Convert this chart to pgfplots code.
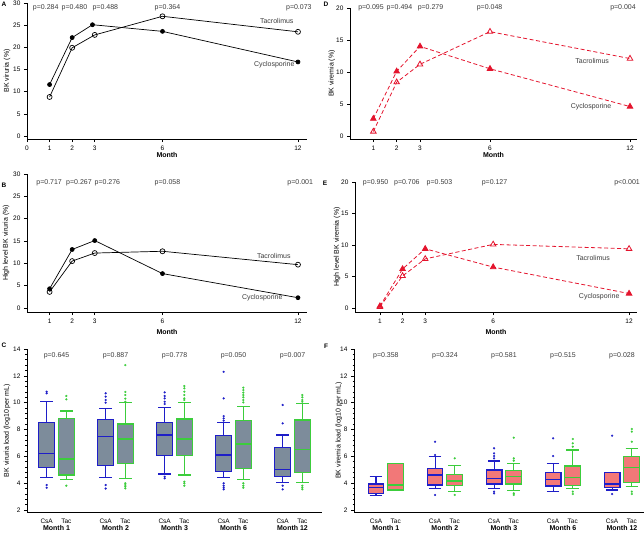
\documentclass[border=0pt]{standalone}
\usepackage{fontspec}
\setmainfont{Liberation Sans}
\usepackage{pgfplots}
\pgfplotsset{compat=1.18}
\usepgfplotslibrary{statistics}
\definecolor{cblue}{RGB}{30,30,200}
\definecolor{cgreen}{RGB}{60,205,60}
\definecolor{bgray}{RGB}{125,140,155}
\definecolor{bsalmon}{RGB}{242,120,120}
\definecolor{cred}{RGB}{228,20,45}
\definecolor{txt}{RGB}{60,60,60}
\pgfplotsset{
  base/.style={
    scale only axis, anchor=south west,
    axis x line*=bottom, axis y line*=left,
    tick align=outside, clip=false,
    /pgf/number format/assume math mode=true,
    tick label style={font=\fontsize{6.5}{7.5}\selectfont, text=black},
    label style={font=\fontsize{7}{8}\selectfont},
    major tick length=3pt, minor tick length=1.5pt,
    axis line style={line width=0.6pt, black},
    tick style={line width=0.6pt, black},
    xlabel style={at={(axis description cs:0.5,0)}, anchor=center},
  },
  csaL/.style={black, line width=0.7pt, mark=*, mark size=2pt, mark options={fill=black}},
  tacL/.style={black, line width=0.7pt, mark=o, mark size=2.5pt, mark options={fill=white}},
  csaR/.style={cred, line width=0.8pt, dash pattern=on 4pt off 2.5pt, mark=triangle*, mark size=3.2pt, mark options={solid, fill=cred}},
  tacR/.style={cred, line width=0.8pt, dash pattern=on 4pt off 2.5pt, mark=triangle, mark size=3.2pt, mark options={solid, fill=white}},
}
\tikzset{pv/.style={font=\fontsize{7}{8}\selectfont, text=txt},
         lab/.style={font=\fontsize{7}{8}\selectfont, text=txt},
         mon/.style={font=\bfseries\fontsize{7}{8}\selectfont, anchor=center, yshift=-16pt},
         pan/.style={font=\bfseries\fontsize{6.5}{7}\selectfont}}
\newcommand{\bxp}[8]{\addplot[#1, boxplot prepared={draw position=#2, lower whisker=#3, lower quartile=#4, median=#5, upper quartile=#6, upper whisker=#7}] table[row sep=\\, y index=0] {v\\ #8};}
\begin{document}
\begin{tikzpicture}
\path[use as bounding box] (0pt,0pt) rectangle (644pt,-532pt);
% ---------- A ----------
\begin{axis}[base, at={(27pt,-139pt)}, width=280pt, height=136pt,
  xmin=0, xmax=12.4, ymin=-0.68, ymax=30,
  xtick={0,1,2,3,6,12}, ytick={0,5,...,30},
  xlabel={\textbf{Month}}, xlabel style={yshift=-16pt},
  ylabel={BK viruria (\%)}, ylabel style={at={(axis description cs:-0.0714,0.5)}, anchor=center}]
\addplot[csaL] coordinates {(1,11.6) (2,22.2) (2.9,25.1) (6,23.6) (12,16.7)};
\addplot[tacL] coordinates {(1,8.8) (2,19.9) (3,22.8) (6,27.0) (12,23.5)};
\node[lab] at (axis cs:11.06,25.9) {Tacrolimus};
\node[lab] at (axis cs:10.95,16.0) {Cyclosporine};
\node[pv] at (axis cs:0.83,28.9) {p=0.284};
\node[pv] at (axis cs:2.1,28.9) {p=0.480};
\node[pv] at (axis cs:3.47,28.9) {p=0.488};
\node[pv] at (axis cs:6.22,28.9) {p=0.364};
\node[pv] at (axis cs:12.04,28.9) {p=0.073};
\end{axis}
% ---------- B ----------
\begin{axis}[base, at={(27pt,-312pt)}, width=280pt, height=138pt,
  xmin=0, xmax=12.4, ymin=-0.9, ymax=30,
  xtick={1,2,3,6,12}, ytick={0,5,...,30},
  xlabel={\textbf{Month}}, xlabel style={yshift=-20pt},
  ylabel={High level BK viruria (\%)}, ylabel style={at={(axis description cs:-0.075,0.5)}, anchor=center}]
\addplot[csaL] coordinates {(1,4.3) (2,13.1) (3,15.1) (6,7.7) (12,2.3)};
\addplot[tacL] coordinates {(1,3.6) (2,10.5) (3,12.3) (6,12.7) (12,9.7)};
\node[lab] at (axis cs:10.93,11.7) {Tacrolimus};
\node[lab] at (axis cs:10.42,2.3) {Cyclosporine};
\node[pv] at (axis cs:0.98,28) {p=0.717};
\node[pv] at (axis cs:2.3,28) {p=0.267};
\node[pv] at (axis cs:3.56,28) {p=0.276};
\node[pv] at (axis cs:6.22,28) {p=0.058};
\node[pv] at (axis cs:12.1,28) {p=0.001};
\end{axis}
% ---------- D ----------
\begin{axis}[base, at={(350pt,-139pt)}, width=287pt, height=131pt,
  xmin=0, xmax=12.3, ymin=-0.47, ymax=20,
  xtick={1,2,3,6,12}, ytick={0,5,...,20},
  xlabel={\textbf{Month}}, xlabel style={yshift=-16pt},
  ylabel={BK viremia (\%)}, ylabel style={at={(axis description cs:-0.063,0.5)}, anchor=center}]
\addplot[csaR] coordinates {(1,2.7) (2,10.1) (3,14.0) (6,10.5) (12,4.6)};
\addplot[tacR] coordinates {(1,0.7) (2,8.4) (3,11.2) (6,16.3) (12,12.1)};
\node[lab] at (axis cs:10.38,11.7) {Tacrolimus};
\node[lab] at (axis cs:10.33,4.6) {Cyclosporine};
\node[pv] at (axis cs:0.9,20.1) {p=0.095};
\node[pv] at (axis cs:2.12,20.1) {p=0.494};
\node[pv] at (axis cs:3.45,20.1) {p=0.279};
\node[pv] at (axis cs:5.98,20.1) {p=0.048};
\node[pv] at (axis cs:11.7,20.1) {p=0.004};
\end{axis}
% ---------- E ----------
\begin{axis}[base, at={(355pt,-312pt)}, width=282pt, height=130pt,
  xmin=-0.1, xmax=12.35, ymin=-0.63, ymax=20,
  xtick={1,2,3,6,12}, ytick={0,5,...,20},
  xlabel={\textbf{Month}}, xlabel style={yshift=-20pt},
  ylabel={High level BK viremia (\%)}, ylabel style={at={(axis description cs:-0.064,0.5)}, anchor=center}]
\addplot[csaR] coordinates {(1,0.3) (2,6.2) (3,9.4) (6,6.5) (12,2.3)};
\addplot[tacR] coordinates {(1,0.2) (2,5.1) (3,7.8) (6,10.1) (12,9.4)};
\node[lab] at (axis cs:10.41,8.0) {Tacrolimus};
\node[lab] at (axis cs:10.68,1.8) {Cyclosporine};
\node[pv] at (axis cs:0.81,19.9) {p=0.950};
\node[pv] at (axis cs:2.19,19.9) {p=0.706};
\node[pv] at (axis cs:3.63,19.9) {p=0.503};
\node[pv] at (axis cs:6.06,19.9) {p=0.127};
\node[pv] at (axis cs:11.91,19.9) {p<0.001};
\end{axis}
% ---------- C ----------
\begin{axis}[base, at={(27pt,-512pt)}, width=295pt, height=163pt,
  xmin=0, xmax=15, ymin=1.85, ymax=14,
  ytick={2,4,...,14}, minor y tick num=4,
  xtick={1,2,4,5,7,8,10,11,13,14},
  xticklabels={CsA,Tac,CsA,Tac,CsA,Tac,CsA,Tac,CsA,Tac},
  x tick style={draw=none},
  ylabel={BK viruria load (log10 per mL)}, ylabel style={at={(axis description cs:-0.068,0.5)}, anchor=center},
  boxplot/draw direction=y, boxplot/box extend=0.8,
  csa/.style={draw=cblue, fill=bgray, line width=1.1pt, mark=*, mark size=1pt, mark options={solid, fill=cblue, draw=cblue, line width=0.2pt}},
  tac/.style={draw=cgreen, fill=bgray, line width=1.1pt, mark=*, mark size=1pt, mark options={solid, fill=cgreen, draw=cgreen, line width=0.2pt}}]
\bxp{csa}{1}{4.43}{5.18}{6.22}{8.53}{10.07}{10.82\\ 10.7\\ 3.86\\ 3.66\\}
\bxp{tac}{2}{4.24}{4.61}{5.8}{8.81}{9.38}{10.5\\ 10.25\\ 3.81\\}
\bxp{csa}{4}{4.43}{5.35}{7.47}{8.76}{9.58}{10.7\\ 10.45\\ 10.2\\ 10.0\\ 3.86\\ 3.6\\}
\bxp{tac}{5}{4.36}{5.48}{7.29}{8.41}{10.0}{12.8\\ 10.8\\ 10.57\\ 10.3\\ 10.07\\ 3.99\\ 3.86\\ 3.74\\ 3.61\\}
\bxp{csa}{7}{4.68}{6.05}{7.59}{8.53}{9.65}{10.77\\ 10.5\\ 10.32\\ 10.07\\ 9.9\\ 4.48\\ 4.36\\}
\bxp{tac}{8}{4.61}{6.05}{7.29}{8.78}{10.02}{11.24\\ 11.07\\ 10.82\\ 10.57\\ 10.32\\ 10.2\\ 4.11\\ 3.99\\ 3.81\\}
\bxp{csa}{10}{4.43}{4.86}{6.1}{7.52}{8.53}{12.3\\ 10.32\\ 9.0\\ 8.83\\ 8.66\\ 3.99\\ 3.81\\ 3.66\\ 3.54\\}
\bxp{tac}{11}{4.29}{5.1}{6.92}{8.66}{9.7}{11.12\\ 10.94\\ 10.75\\ 10.57\\ 10.4\\ 10.2\\ 10.02\\ 3.99\\ 3.81\\ 3.66\\}
\bxp{csa}{13}{4.04}{4.48}{5.03}{6.67}{7.59}{9.83\\ 8.46\\ 3.81\\ 3.54\\}
\bxp{tac}{14}{4.06}{4.81}{6.52}{8.71}{9.95}{10.57\\ 10.4\\ 10.2\\ 10.07\\ 3.81\\ 3.66\\ 3.54\\}
\node[pv] at (axis cs:1.5,13.48) {p=0.645};
\node[pv] at (axis cs:4.5,13.48) {p=0.887};
\node[pv] at (axis cs:7.5,13.48) {p=0.778};
\node[pv] at (axis cs:10.5,13.48) {p=0.050};
\node[pv] at (axis cs:13.5,13.48) {p=0.007};
\node[mon] at (axis cs:1.5,1.85) {Month 1};
\node[mon] at (axis cs:4.5,1.85) {Month 2};
\node[mon] at (axis cs:7.5,1.85) {Month 3};
\node[mon] at (axis cs:10.5,1.85) {Month 6};
\node[mon] at (axis cs:13.5,1.85) {Month 12};
\end{axis}
% ---------- F ----------
\begin{axis}[base, at={(354pt,-512pt)}, width=290pt, height=163pt,
  xmin=-0.12, xmax=14.62, ymin=1.85, ymax=14,
  ytick={2,4,...,14}, minor y tick num=4,
  xtick={1,2,4,5,7,8,10,11,13,14},
  xticklabels={CsA,Tac,CsA,Tac,CsA,Tac,CsA,Tac,CsA,Tac},
  x tick style={draw=none},
  ylabel={BK viremia load (log10 per mL)}, ylabel style={at={(axis description cs:-0.052,0.5)}, anchor=center},
  boxplot/draw direction=y, boxplot/box extend=0.8,
  csa/.style={draw=cblue, fill=bsalmon, line width=1.1pt, mark=*, mark size=1pt, mark options={solid, fill=cblue, draw=cblue, line width=0.2pt}},
  tac/.style={draw=cgreen, fill=bsalmon, line width=1.1pt, mark=*, mark size=1pt, mark options={solid, fill=cgreen, draw=cgreen, line width=0.2pt}}]
\addplot[csa, boxplot prepared={draw position=1, lower whisker=3.05, lower quartile=3.2, median=3.65, upper quartile=3.94, upper whisker=4.53}] coordinates {};
\addplot[tac, boxplot prepared={draw position=2, lower whisker=3.49, lower quartile=3.49, median=3.86, upper quartile=5.48, upper whisker=5.48}] coordinates {};
\bxp{csa}{4}{3.61}{3.86}{4.61}{5.1}{5.98}{7.09\\ 6.1\\ 3.12\\}
\bxp{tac}{5}{3.37}{3.81}{4.16}{4.66}{5.35}{5.85\\ 3.12\\}
\bxp{csa}{7}{3.57}{3.94}{4.36}{4.98}{5.65}{6.6\\ 6.22\\ 6.02\\ 5.85\\ 3.37\\ 3.24\\}
\bxp{tac}{8}{3.44}{3.94}{4.48}{4.93}{5.48}{7.39\\ 5.85\\ 5.68\\ 3.24\\ 3.12\\}
\bxp{csa}{10}{3.37}{3.79}{4.29}{4.78}{5.48}{7.34\\ 6.02\\}
\bxp{tac}{11}{3.57}{3.81}{4.43}{5.28}{6.47}{7.29\\ 6.97\\ 6.72\\ 3.37\\ 3.19\\}
\bxp{csa}{13}{3.49}{3.69}{3.94}{4.81}{4.81}{7.54\\ 3.19\\}
\bxp{tac}{14}{3.74}{4.06}{5.18}{5.98}{6.6}{8.04\\ 7.84\\ 7.09\\ 3.37\\ 3.19\\}
\node[pv] at (axis cs:1.5,13.48) {p=0.358};
\node[pv] at (axis cs:4.5,13.48) {p=0.324};
\node[pv] at (axis cs:7.5,13.48) {p=0.581};
\node[pv] at (axis cs:10.5,13.48) {p=0.515};
\node[pv] at (axis cs:13.5,13.48) {p=0.028};
\node[mon] at (axis cs:1.5,1.85) {Month 1};
\node[mon] at (axis cs:4.5,1.85) {Month 2};
\node[mon] at (axis cs:7.5,1.85) {Month 3};
\node[mon] at (axis cs:10.5,1.85) {Month 6};
\node[mon] at (axis cs:13.5,1.85) {Month 12};
\end{axis}
% panel letters
\node[pan] at (4pt,-4pt) {A};
\node[pan] at (4pt,-185pt) {B};
\node[pan] at (4pt,-345pt) {C};
\node[pan] at (326pt,-4pt) {D};
\node[pan] at (325pt,-183pt) {E};
\node[pan] at (326pt,-346pt) {F};
\end{tikzpicture}
\end{document}
